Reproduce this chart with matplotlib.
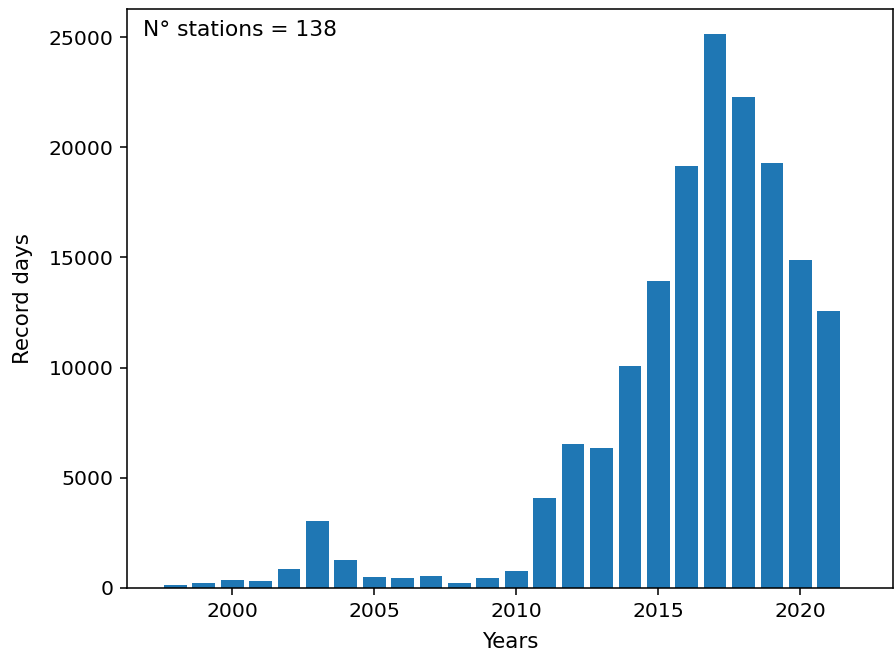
import matplotlib.pyplot as plt

years = list(range(1998, 2022))
record_days = [140, 230, 370, 300, 870, 3060, 1290, 500, 430, 560, 230, 430,
               790, 4080, 6530, 6350, 10070, 13930, 19150, 25130, 22280, 19280,
               14880, 12570]
n_stations = 138

fig, ax = plt.subplots(figsize=(895 / 140, 654 / 140), dpi=140)
fig.subplots_adjust(left=0.142, right=0.998, top=0.986, bottom=0.101)
ax.bar(years, record_days, color='#1f77b4')
ax.set_xlabel('Years', fontsize=11, labelpad=6)
ax.set_ylabel('Record days', fontsize=11, labelpad=8)
ax.tick_params(labelsize=10.5)
ax.set_xlim(1996.3, 2023.27)
ax.set_ylim(0, 26270)
ax.text(0.021, 0.982, 'N° stations = ' + str(n_stations), transform=ax.transAxes,
        va='top', ha='left', fontsize=11.2)
fig.savefig('out.png')
